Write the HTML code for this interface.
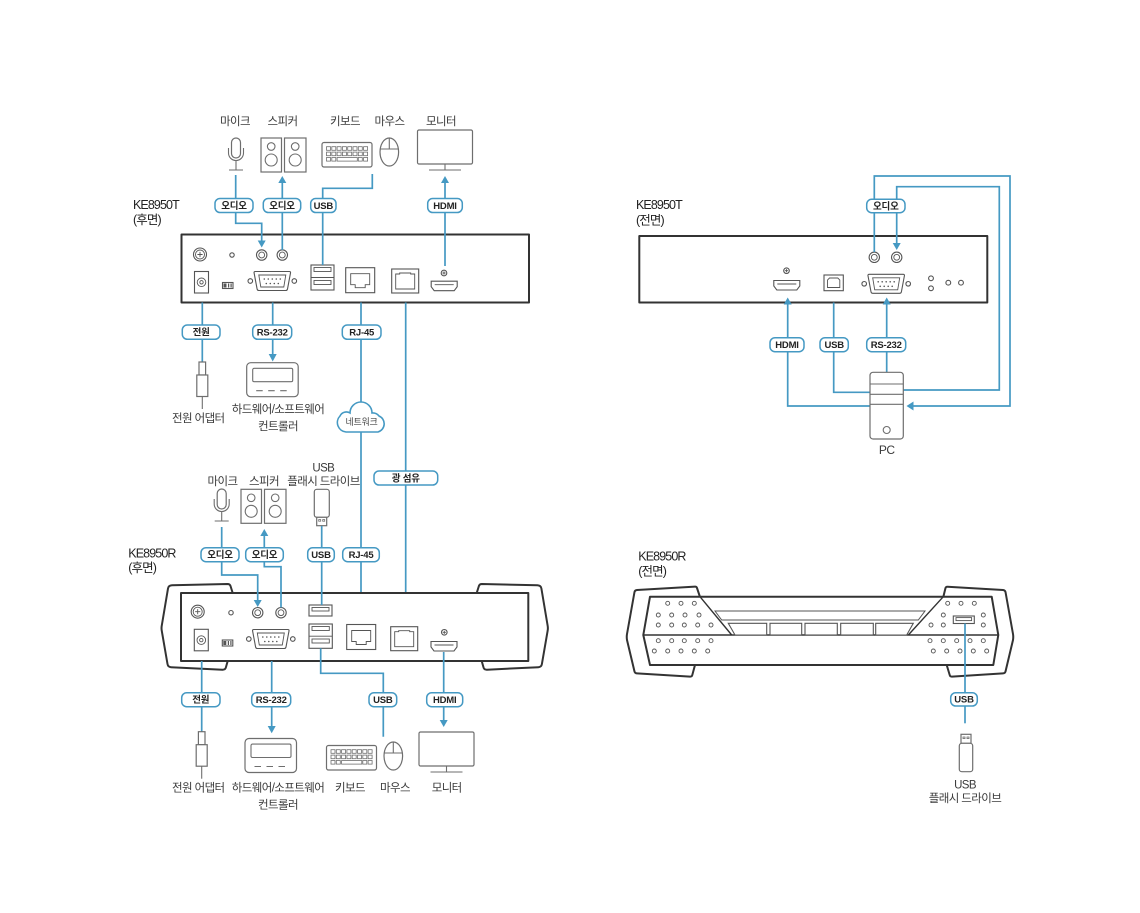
<!DOCTYPE html>
<html><head><meta charset="utf-8">
<style>
html,body{margin:0;padding:0;background:#fff;}
svg{display:block;}
text{font-family:"Liberation Sans","Noto Sans CJK KR",sans-serif;fill:#3a3a3a;}
.t{font-size:11.5px;letter-spacing:-0.6px;text-anchor:middle;}
.h{font-size:12.5px;letter-spacing:-0.9px;fill:#222;}
.l{font-size:9.5px;font-weight:bold;letter-spacing:-0.2px;fill:#222;text-anchor:middle;}
.n{font-size:9px;letter-spacing:-0.3px;fill:#444;text-anchor:middle;}
.b{fill:none;stroke:#4599c3;stroke-width:1.7;}
.bx{fill:#fff;stroke:#4599c3;stroke-width:1.5;}
.a{fill:#4599c3;}
.d{fill:#fff;stroke:#6e6e6e;stroke-width:1.2;}
.dn{fill:none;stroke:#6e6e6e;stroke-width:1.1;}
.p{fill:#fff;stroke:#333;stroke-width:2;stroke-linejoin:round;}
.c{fill:#fff;stroke:#555;stroke-width:1.1;}
.cn{fill:none;stroke:#555;stroke-width:0.9;}
.k{fill:none;stroke:#6e6e6e;stroke-width:0.8;}
.dt{fill:#fff;stroke:#555;stroke-width:0.9;}
</style></head><body>
<svg width="1140" height="913" viewBox="0 0 1140 913" xmlns="http://www.w3.org/2000/svg">
<defs>
<g id="jack"><circle r="5.2" class="c"/><circle r="2.9" class="cn"/></g>
<g id="gnd"><circle r="6.5" class="c"/><circle r="4.5" class="cn"/><path d="M-2.6,0H2.6M0,-2.6V2.6" class="cn"/></g>
<g id="dc"><rect width="14" height="21.5" class="c"/><circle cx="7" cy="10.8" r="4.3" class="cn"/><circle cx="7" cy="10.8" r="1.7" class="cn"/></g>
<g id="sw"><rect width="10.5" height="6" class="c"/><rect x="1" y="1" width="3" height="4" fill="#555"/><rect x="5.5" y="1" width="1.2" height="4" fill="#555"/><rect x="8" y="1" width="1.2" height="4" fill="#555"/></g>
<g id="db9"><path d="M-17,-9.5H17Q18.5,-9.5 18.2,-8L15.2,8Q14.9,9.5 13.4,9.5H-13.4Q-14.9,9.5 -15.2,8L-18.2,-8Q-18.5,-9.5 -17,-9.5Z" class="c"/><path d="M-13.5,-6H13.5L11.5,6H-11.5Z" class="cn"/>
<g fill="#555"><circle cx="-8" cy="-2" r="0.8"/><circle cx="-4" cy="-2" r="0.8"/><circle cx="0" cy="-2" r="0.8"/><circle cx="4" cy="-2" r="0.8"/><circle cx="8" cy="-2" r="0.8"/><circle cx="-6" cy="2.5" r="0.8"/><circle cx="-2" cy="2.5" r="0.8"/><circle cx="2" cy="2.5" r="0.8"/><circle cx="6" cy="2.5" r="0.8"/></g>
<circle cx="-22" r="2.3" class="c"/><circle cx="22" r="2.3" class="c"/></g>
<g id="usb"><rect width="23" height="11" class="c"/><rect x="3" y="2.5" width="17" height="3.5" class="cn"/></g>
<g id="rj"><rect width="29" height="25" class="c"/><path d="M5,6H24V17H19.5V20H9.5V17H5Z" class="cn"/></g>
<g id="sfp"><rect width="27" height="24" class="c"/><path d="M4,20V5H8V4H19V5H23V20Z" class="cn"/></g>
<g id="hdmi"><path d="M0.5,0.5H26.5V6L23.5,10H3.5L0.5,6Z" class="c"/><path d="M4,4H23" class="cn"/></g>
<g id="hl"><circle r="2.8" class="c"/><path d="M-1.6,0H1.6M0,-1.6V1.6" class="cn"/></g>
<g id="spk"><rect width="20.5" height="34" class="d"/><circle cx="10.2" cy="8.5" r="3.8" class="dn"/><circle cx="10.2" cy="22" r="6" class="dn"/><rect x="23.5" width="21.5" height="34" class="d"/><circle cx="34.2" cy="8.5" r="3.8" class="dn"/><circle cx="34.2" cy="22" r="6" class="dn"/></g>
<g id="mic"><rect x="-4.5" width="9" height="20" rx="4.5" class="d"/><path d="M-7.5,10V15A7.5,7.5 0 0 0 7.5,15V10M0,22.5V32M-7,32H7" class="dn"/></g>
<g id="kb"><rect width="50" height="24.5" rx="2" class="d"/>
<rect x="4.5" y="4.2" width="4" height="3.6" class="k"/><rect x="9.8" y="4.2" width="4" height="3.6" class="k"/><rect x="15.1" y="4.2" width="4" height="3.6" class="k"/><rect x="20.4" y="4.2" width="4" height="3.6" class="k"/><rect x="25.7" y="4.2" width="4" height="3.6" class="k"/><rect x="31" y="4.2" width="4" height="3.6" class="k"/><rect x="36.3" y="4.2" width="4" height="3.6" class="k"/><rect x="41.6" y="4.2" width="4" height="3.6" class="k"/>
<rect x="4.5" y="9.6" width="4" height="3.6" class="k"/><rect x="9.8" y="9.6" width="4" height="3.6" class="k"/><rect x="15.1" y="9.6" width="4" height="3.6" class="k"/><rect x="20.4" y="9.6" width="4" height="3.6" class="k"/><rect x="25.7" y="9.6" width="4" height="3.6" class="k"/><rect x="31" y="9.6" width="4" height="3.6" class="k"/><rect x="36.3" y="9.6" width="4" height="3.6" class="k"/><rect x="41.6" y="9.6" width="4" height="3.6" class="k"/>
<rect x="4.5" y="15" width="4" height="3.6" class="k"/><rect x="9.8" y="15" width="4" height="3.6" class="k"/><rect x="15.1" y="15" width="20.2" height="3.6" class="k"/><rect x="36.3" y="15" width="4" height="3.6" class="k"/><rect x="41.6" y="15" width="4" height="3.6" class="k"/></g>
<g id="mouse"><ellipse rx="9.3" ry="14" class="d"/><path d="M0,-14V-3M-9,-3H9" class="dn"/></g>
<g id="mon"><rect width="55" height="34" rx="1.5" class="d"/><path d="M27.5,34V40M11.5,40H43.5" class="dn"/></g>
<g id="ctl"><rect width="51.5" height="34" rx="4" class="d"/><rect x="6" y="5.6" width="40" height="13.4" rx="1.5" class="dn"/><path d="M9.5,28H16M21.5,28H28M33.5,28H40" class="dn"/></g>
<g id="adp"><rect x="-3.3" width="6.6" height="13" class="d"/><rect x="-5.5" y="13" width="11" height="21.5" class="d"/><path d="M0,34.5V47" class="dn"/></g>
</defs>

<!-- ================= TOP-LEFT: KE8950T rear ================= -->
<text x="235" y="125" class="t">마이크</text>
<text x="282.5" y="125" class="t">스피커</text>
<text x="345" y="125" class="t">키보드</text>
<text x="389.5" y="125" class="t">마우스</text>
<text x="441" y="125" class="t">모니터</text>

<use href="#mic" x="236" y="138"/>
<use href="#spk" x="261" y="138"/>
<use href="#kb" x="322" y="142.5"/>
<use href="#mouse" x="389.3" y="152"/>
<use href="#mon" x="417.5" y="130"/>

<text x="133" y="209" class="h">KE8950T</text>
<text x="133" y="224" class="h">(후면)</text>

<rect x="181.5" y="234.5" width="347.5" height="68" class="p"/>
<use href="#gnd" x="200" y="254.5"/>
<circle cx="232" cy="255" r="2.2" class="c"/>
<use href="#jack" x="261.7" y="255"/>
<use href="#jack" x="282.3" y="255"/>
<use href="#dc" x="194.5" y="271.5"/>
<use href="#sw" x="222.5" y="282.5"/>
<use href="#db9" x="272.3" y="281"/>
<rect x="311" y="265" width="23" height="25" class="c"/>
<path d="M311,277.5H334" class="cn"/>
<rect x="314" y="267.5" width="17" height="4" class="cn"/>
<rect x="314" y="280.5" width="17" height="4" class="cn"/>
<use href="#rj" x="345.7" y="267.7"/>
<use href="#sfp" x="391.7" y="269"/>
<use href="#hdmi" x="430.7" y="280.7"/>
<use href="#hl" x="444" y="273"/>

<!-- lines top-left -->
<path class="b" d="M235.7,175V223.3H261.7V241"/>
<path class="a" d="M257.7,240.5H265.7L261.7,247.5Z"/>
<path class="b" d="M282.3,250V182"/>
<path class="a" d="M278.3,183H286.3L282.3,176Z"/>
<path class="b" d="M372.3,174V188.3H322.7V265"/>
<path class="b" d="M445,266V182"/>
<path class="a" d="M441,183H449L445,176Z"/>

<rect x="215" y="198.5" width="38" height="14" rx="5" class="bx"/><text x="234" y="208.8" class="l">오디오</text>
<rect x="263.3" y="198.5" width="37.4" height="14" rx="5" class="bx"/><text x="282" y="208.8" class="l">오디오</text>
<rect x="310.7" y="198.5" width="25.3" height="14" rx="5" class="bx"/><text x="323.3" y="208.8" class="l">USB</text>
<rect x="427.7" y="198.5" width="34.6" height="14" rx="5" class="bx"/><text x="445" y="208.8" class="l">HDMI</text>

<!-- below T rear -->
<path class="b" d="M202.3,302.5V362"/>
<path class="b" d="M272.7,302.5V355"/>
<path class="a" d="M268.7,354H276.7L272.7,361.5Z"/>
<path class="b" d="M361,302.5V624"/>
<path class="b" d="M405.7,302.5V626.7"/>

<use href="#adp" x="202.3" y="362"/>
<use href="#ctl" x="246.7" y="362.7"/>
<text x="198.3" y="422" class="t">전원 어댑터</text>
<text x="278" y="413" class="t">하드웨어/소프트웨어</text>
<text x="278" y="430" class="t">컨트롤러</text>

<path d="M346,432A9.5,9.5 0 0 1 340,416A7,7 0 0 1 350,413A11,11 0 0 1 372,413A8,8 0 0 1 379,416A8.5,8.5 0 0 1 378,432Z" fill="#fff" stroke="#4599c3" stroke-width="1.6"/>
<text x="361.5" y="425" class="n">네트워크</text>

<rect x="182.3" y="325" width="37.7" height="14.3" rx="5" class="bx"/><text x="201.2" y="335.4" class="l">전원</text>
<rect x="252.7" y="325" width="39" height="14.3" rx="5" class="bx"/><text x="272.2" y="335.4" class="l">RS-232</text>
<rect x="342.3" y="325" width="38.7" height="14.3" rx="5" class="bx"/><text x="361.7" y="335.4" class="l">RJ-45</text>
<rect x="374" y="471" width="63.7" height="14" rx="5" class="bx"/><text x="405.8" y="481.3" class="l">광 섬유</text>

<!-- ================= MIDDLE: KE8950R rear ================= -->
<text x="222.5" y="485" class="t">마이크</text>
<text x="264" y="485" class="t">스피커</text>
<text x="323.3" y="471.5" class="t">USB</text>
<text x="323.5" y="485" class="t">플래시 드라이브</text>

<use href="#mic" x="221.7" y="489"/>
<use href="#spk" x="241" y="489.3"/>
<rect x="314.3" y="489.3" width="15" height="28" rx="2.5" class="d"/>
<rect x="316.7" y="517.3" width="10" height="8.4" class="d"/>
<rect x="318.7" y="519.6" width="2" height="1.6" class="k"/>
<rect x="322.7" y="519.6" width="2" height="1.6" class="k"/>

<text x="128.3" y="557.3" class="h">KE8950R</text>
<text x="128.3" y="572" class="h">(후면)</text>

<path class="p" d="M232.7,593L230.5,586Q229.8,584 227.5,584L172,585.3Q168.5,585.5 168,588.5L161.7,626Q161.3,628.5 161.8,631L167.5,664Q168,667 171,667.2L222.5,669.7Q225.5,669.8 226,667L227.7,661Z"/>
<path class="p" d="M476.7,593L478.9,586Q479.6,584 481.9,584L537.4,585.3Q540.9,585.5 541.4,588.5L547.7,626Q548.1,628.5 547.6,631L541.9,664Q541.4,667 538.4,667.2L486.9,669.7Q483.9,669.8 483.4,667L481.7,661Z"/>
<rect x="181" y="593" width="347.3" height="68" class="p"/>
<use href="#gnd" x="197.7" y="611.7"/>
<circle cx="231" cy="612.7" r="2.2" class="c"/>
<use href="#jack" x="257.7" y="612.7"/>
<use href="#jack" x="281" y="612.7"/>
<use href="#dc" x="194.3" y="629.3"/>
<use href="#sw" x="222.3" y="640"/>
<use href="#db9" x="270.8" y="639"/>
<use href="#usb" x="309" y="605"/>
<rect x="309" y="624" width="23.3" height="24.3" class="c"/>
<path d="M309,636.2H332.3" class="cn"/>
<rect x="312" y="626.5" width="17.3" height="4" class="cn"/>
<rect x="312" y="639" width="17.3" height="4" class="cn"/>
<use href="#rj" x="346.7" y="624.5"/>
<use href="#sfp" x="390.7" y="626.7"/>
<use href="#hdmi" x="430.5" y="641"/>
<use href="#hl" x="444.3" y="632.3"/>

<!-- middle lines -->
<path class="b" d="M221.7,527V575H257.7V600"/>
<path class="a" d="M253.7,600H261.7L257.7,607Z"/>
<path class="b" d="M264.3,535V566.7H281V607.5"/>
<path class="a" d="M260.3,536H268.3L264.3,529Z"/>
<path class="b" d="M321.7,526V605"/>

<rect x="201" y="547.7" width="38" height="14" rx="5" class="bx"/><text x="220" y="558" class="l">오디오</text>
<rect x="245.7" y="547.7" width="37.6" height="14" rx="5" class="bx"/><text x="264.5" y="558" class="l">오디오</text>
<rect x="307.7" y="547.7" width="26.6" height="14" rx="5" class="bx"/><text x="321" y="558" class="l">USB</text>
<rect x="342.7" y="547.7" width="36.6" height="14" rx="5" class="bx"/><text x="361" y="558" class="l">RJ-45</text>

<!-- below R rear -->
<path class="b" d="M201.7,661V731.7"/>
<path class="b" d="M271.7,661V727"/>
<path class="a" d="M267.7,726H275.7L271.7,733.3Z"/>
<path class="b" d="M320.7,648.3V673.3H383.3V736.7"/>
<path class="b" d="M443.7,652V721"/>
<path class="a" d="M439.7,720H447.7L443.7,727Z"/>

<rect x="181.7" y="692.7" width="38.3" height="14" rx="5" class="bx"/><text x="200.8" y="703" class="l">전원</text>
<rect x="251.7" y="692.7" width="39" height="14" rx="5" class="bx"/><text x="271.2" y="703" class="l">RS-232</text>
<rect x="369" y="692.7" width="27.7" height="14" rx="5" class="bx"/><text x="382.8" y="703" class="l">USB</text>
<rect x="426.7" y="692.7" width="36" height="14" rx="5" class="bx"/><text x="444.7" y="703" class="l">HDMI</text>

<use href="#adp" x="201.7" y="731.7"/>
<use href="#ctl" x="245" y="738.5"/>
<use href="#kb" x="326.5" y="745.5"/>
<use href="#mouse" x="393.3" y="756"/>
<use href="#mon" x="419" y="732"/>

<text x="198.3" y="791.7" class="t">전원 어댑터</text>
<text x="278" y="791.7" class="t">하드웨어/소프트웨어</text>
<text x="278" y="808.3" class="t">컨트롤러</text>
<text x="350" y="791.7" class="t">키보드</text>
<text x="395" y="791.7" class="t">마우스</text>
<text x="446.7" y="791.7" class="t">모니터</text>

<!-- ================= TOP-RIGHT: KE8950T front ================= -->
<text x="636" y="209" class="h">KE8950T</text>
<text x="636" y="224.5" class="h">(전면)</text>

<rect x="639.3" y="236" width="348" height="66.5" class="p"/>
<use href="#jack" x="874.3" y="257.3"/>
<use href="#jack" x="896.7" y="257.3"/>
<use href="#hdmi" x="773.3" y="280"/>
<use href="#hl" x="786.5" y="270.7"/>
<rect x="824" y="275" width="19.3" height="15.7" class="c"/>
<path d="M827.5,287.5V280L829.5,278H837.8L839.8,280V287.5Z" class="cn"/>
<use href="#db9" x="886.2" y="283.8"/>
<circle cx="931" cy="278.3" r="2.4" class="c"/>
<circle cx="931" cy="288.3" r="2.4" class="c"/>
<circle cx="948.3" cy="282.7" r="2.4" class="c"/>
<circle cx="961" cy="282.7" r="2.4" class="c"/>

<path class="b" d="M874.3,252V176H1010V406H913"/>
<path class="a" d="M913.5,401.5V410.5L906.5,406Z"/>
<path class="b" d="M896.7,244V186.7H999.3V390H903.3"/>
<path class="a" d="M892.7,243H900.7L896.7,250Z"/>
<path class="b" d="M787.7,304V406H870"/>
<path class="a" d="M783.7,304.5H791.7L787.7,297.5Z"/>
<path class="b" d="M833.7,302.5V392.3H870"/>
<path class="b" d="M886.7,304V372.3"/>
<path class="a" d="M882.7,304.5H890.7L886.7,297.5Z"/>

<rect x="866.7" y="199.3" width="38.3" height="13.4" rx="5" class="bx"/><text x="885.8" y="209.3" class="l">오디오</text>
<rect x="770" y="337.7" width="34" height="14" rx="5" class="bx"/><text x="787" y="348" class="l">HDMI</text>
<rect x="820" y="337.7" width="28.3" height="14" rx="5" class="bx"/><text x="834.2" y="348" class="l">USB</text>
<rect x="866.7" y="337.7" width="39" height="14" rx="5" class="bx"/><text x="886.2" y="348" class="l">RS-232</text>

<rect x="870" y="372.3" width="33.3" height="66.7" rx="3" class="d"/>
<path d="M870,384H903.3M870,394.3H903.3M870,404.3H903.3" class="dn"/>
<circle cx="886.7" cy="430" r="3.5" class="dn"/>
<text x="886.7" y="454" class="t" style="font-size:12px;letter-spacing:-0.5px">PC</text>

<!-- ================= BOTTOM-RIGHT: KE8950R front ================= -->
<text x="638.3" y="560.5" class="h">KE8950R</text>
<text x="638.3" y="575.5" class="h">(전면)</text>

<path class="p" d="M700,597L697,588Q696.5,586.5 695,586.6L637,590Q635,590.2 634.5,592L627,634Q626.5,637 627,640L634.5,671.5Q635,673.3 637,673.4L690,676.6Q692,676.7 692.3,675L695,665Z"/>
<path class="p" d="M943.3,597L945.5,588Q946,586.6 947.5,586.7L1003,590Q1005,590.2 1005.5,592L1013,634Q1013.5,637 1013,640L1005.5,671.5Q1005,673.3 1003,673.4L952,676.6Q950,676.7 949.7,675L946.7,665Z"/>
<path class="p" d="M650,596.7H991.7L998.3,635L993.3,665H650L643.3,635Z"/>
<path d="M643.3,635H998.3" stroke="#333" stroke-width="1.4" fill="none"/>
<path d="M700,596.7L731.7,635M943.3,596.7L908.3,635" stroke="#333" stroke-width="1.4" fill="none"/>
<path d="M715,611H925L918.3,620H721.7Z" fill="#fff" stroke="#555" stroke-width="1"/>
<path d="M728.3,623.3H766.7V635H735Z" class="c"/>
<rect x="770" y="623.3" width="31.7" height="11.7" class="c"/>
<rect x="805" y="623.3" width="32.3" height="11.7" class="c"/>
<rect x="840.7" y="623.3" width="32.6" height="11.7" class="c"/>
<path d="M875.7,623.3H913.3L906.7,635H875.7Z" class="c"/>

<g>
<circle cx="667.7" cy="603.3" r="2" class="dt"/><circle cx="681" cy="603.3" r="2" class="dt"/><circle cx="694.3" cy="603.3" r="2" class="dt"/>
<circle cx="658.3" cy="615" r="2" class="dt"/><circle cx="671.7" cy="615" r="2" class="dt"/><circle cx="685" cy="615" r="2" class="dt"/><circle cx="699" cy="615" r="2" class="dt"/>
<circle cx="658.3" cy="625" r="2" class="dt"/><circle cx="671.7" cy="625" r="2" class="dt"/><circle cx="684.3" cy="625" r="2" class="dt"/><circle cx="697.7" cy="625" r="2" class="dt"/><circle cx="711" cy="625" r="2" class="dt"/>
<circle cx="658.3" cy="640.7" r="2" class="dt"/><circle cx="671.7" cy="640.7" r="2" class="dt"/><circle cx="684.3" cy="640.7" r="2" class="dt"/><circle cx="697.7" cy="640.7" r="2" class="dt"/><circle cx="711" cy="640.7" r="2" class="dt"/>
<circle cx="654.3" cy="651" r="2" class="dt"/><circle cx="667.7" cy="651" r="2" class="dt"/><circle cx="681" cy="651" r="2" class="dt"/><circle cx="694.3" cy="651" r="2" class="dt"/><circle cx="707.7" cy="651" r="2" class="dt"/>
<circle cx="947.7" cy="603.3" r="2" class="dt"/><circle cx="961" cy="603.3" r="2" class="dt"/><circle cx="974.3" cy="603.3" r="2" class="dt"/>
<circle cx="943.3" cy="615" r="2" class="dt"/><circle cx="983.3" cy="615" r="2" class="dt"/>
<circle cx="931" cy="625" r="2" class="dt"/><circle cx="943.3" cy="625" r="2" class="dt"/><circle cx="983.3" cy="625" r="2" class="dt"/>
<circle cx="930" cy="640.7" r="2" class="dt"/><circle cx="943.3" cy="640.7" r="2" class="dt"/><circle cx="956.7" cy="640.7" r="2" class="dt"/><circle cx="970" cy="640.7" r="2" class="dt"/><circle cx="983.3" cy="640.7" r="2" class="dt"/>
<circle cx="933.3" cy="651" r="2" class="dt"/><circle cx="946.7" cy="651" r="2" class="dt"/><circle cx="960" cy="651" r="2" class="dt"/><circle cx="973.3" cy="651" r="2" class="dt"/><circle cx="986.7" cy="651" r="2" class="dt"/>
</g>
<rect x="953.3" y="616" width="21" height="7.5" class="c"/>
<rect x="956" y="617.6" width="15.6" height="3" class="cn"/>

<path class="b" d="M965,623.5V723.3"/>
<rect x="950.7" y="692.7" width="26.6" height="13.3" rx="5" class="bx"/><text x="964" y="702.7" class="l">USB</text>

<rect x="961" y="734.3" width="10" height="9" class="d"/>
<rect x="963" y="737" width="2" height="1.6" class="k"/>
<rect x="967" y="737" width="2" height="1.6" class="k"/>
<rect x="959.3" y="743.3" width="13.4" height="28.4" rx="2.5" class="d"/>
<text x="965" y="788.3" class="t">USB</text>
<text x="965" y="802" class="t">플래시 드라이브</text>
</svg>
</body></html>
